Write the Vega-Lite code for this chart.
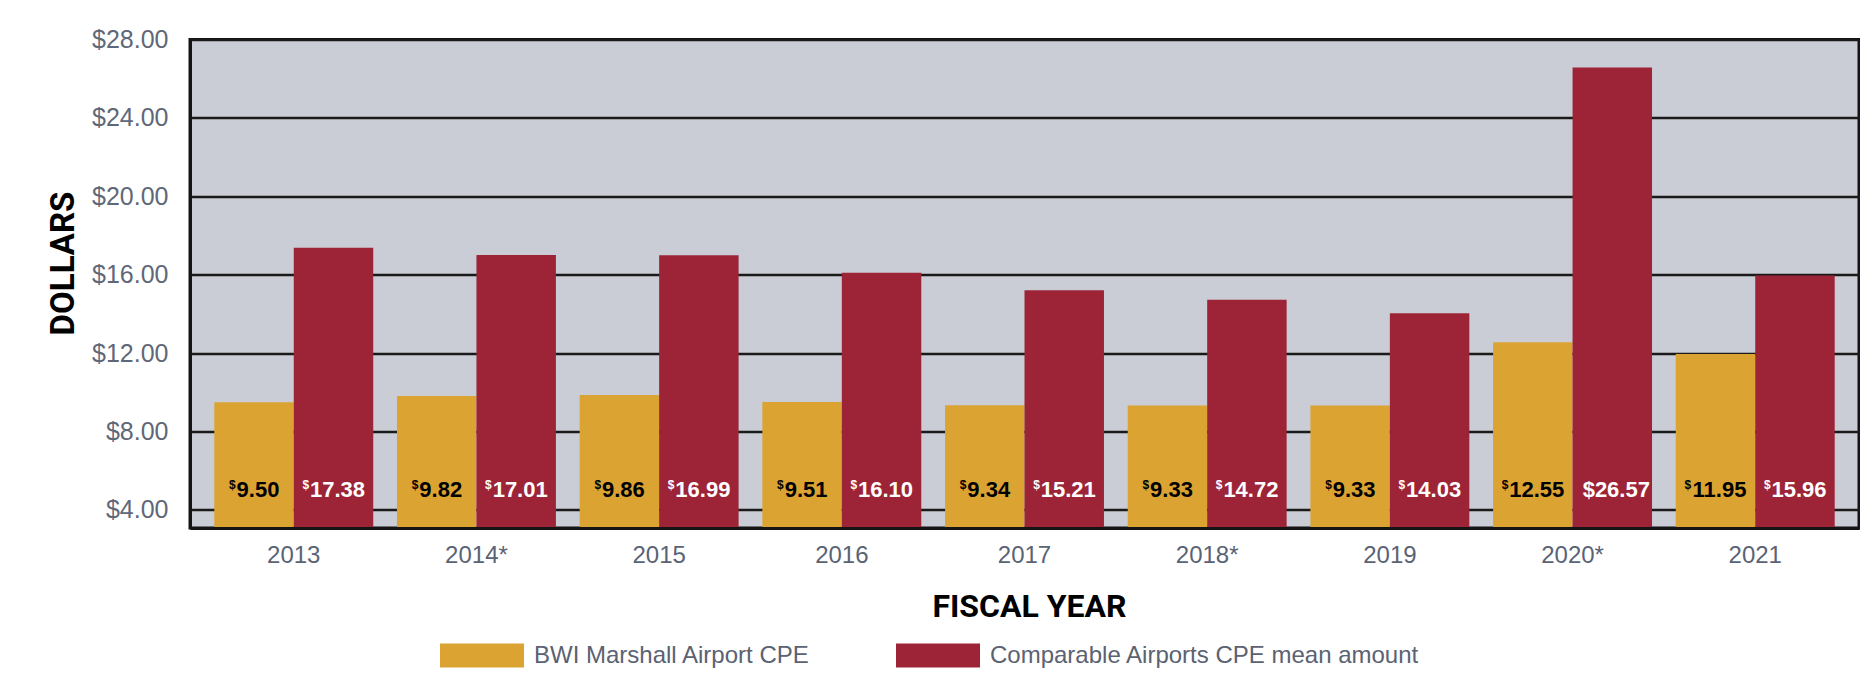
{
  "$schema": "https://vega.github.io/schema/vega-lite/v6.json",
  "autosize": {"type": "none"},
  "width": 1669,
  "height": 488.5,
  "padding": {"left": 190, "top": 39.5, "right": 1, "bottom": 147},
  "background": "#FFFFFF",
  "config": {
    "view": {"fill": "#CACDD5", "stroke": "#141414", "strokeWidth": 3}
  },
  "data": {
    "values": [
      {"year": "2013", "series": "BWI Marshall Airport CPE", "value": 9.50},
      {"year": "2013", "series": "Comparable Airports CPE mean amount", "value": 17.38},
      {"year": "2014*", "series": "BWI Marshall Airport CPE", "value": 9.82},
      {"year": "2014*", "series": "Comparable Airports CPE mean amount", "value": 17.01},
      {"year": "2015", "series": "BWI Marshall Airport CPE", "value": 9.86},
      {"year": "2015", "series": "Comparable Airports CPE mean amount", "value": 16.99},
      {"year": "2016", "series": "BWI Marshall Airport CPE", "value": 9.51},
      {"year": "2016", "series": "Comparable Airports CPE mean amount", "value": 16.10},
      {"year": "2017", "series": "BWI Marshall Airport CPE", "value": 9.34},
      {"year": "2017", "series": "Comparable Airports CPE mean amount", "value": 15.21},
      {"year": "2018*", "series": "BWI Marshall Airport CPE", "value": 9.33},
      {"year": "2018*", "series": "Comparable Airports CPE mean amount", "value": 14.72},
      {"year": "2019", "series": "BWI Marshall Airport CPE", "value": 9.33},
      {"year": "2019", "series": "Comparable Airports CPE mean amount", "value": 14.03},
      {"year": "2020*", "series": "BWI Marshall Airport CPE", "value": 12.55},
      {"year": "2020*", "series": "Comparable Airports CPE mean amount", "value": 26.57},
      {"year": "2021", "series": "BWI Marshall Airport CPE", "value": 11.95},
      {"year": "2021", "series": "Comparable Airports CPE mean amount", "value": 15.96}
    ]
  },
  "encoding": {
    "x": {
      "field": "year",
      "type": "nominal",
      "sort": null,
      "scale": {"paddingInner": 0.13, "paddingOuter": 0.133},
      "axis": {
        "title": "FISCAL YEAR",
        "titleFont": "Roboto",
        "titleFontWeight": "bold",
        "titleFontSize": 32,
        "titleColor": "#000000",
        "titleBaseline": "alphabetic",
        "titleX": 839,
        "titleY": 88,
        "labelFont": "'Liberation Sans', sans-serif",
        "labelFontSize": 24,
        "labelColor": "#5A6375",
        "labelAngle": 0,
        "labelBaseline": "top",
        "labelPadding": 15,
        "ticks": false,
        "domainColor": "#141414",
        "domainWidth": 3,
        "zindex": 1
      }
    },
    "xOffset": {"field": "series", "type": "nominal", "scale": {"paddingInner": 0, "paddingOuter": 0}},
    "y": {
      "field": "value",
      "type": "quantitative",
      "scale": {"domain": [3.08, 28], "nice": false, "zero": false},
      "axis": {
        "title": "DOLLARS",
        "titleFont": "Roboto",
        "titleFontWeight": "bold",
        "titleFontSize": 33,
        "titleColor": "#000000",
        "titleAngle": 270,
        "titleAlign": "center",
        "titleBaseline": "alphabetic",
        "titleX": -117,
        "titleY": 223.5,
        "values": [4, 8, 12, 16, 20, 24, 28],
        "format": "$.2f",
        "labelFont": "'Liberation Sans', sans-serif",
        "labelFontSize": 25,
        "labelColor": "#5F6878",
        "labelPadding": 22,
        "ticks": false,
        "grid": true,
        "gridColor": "#1A1A1A",
        "gridWidth": 2.5,
        "gridOpacity": 1,
        "domainColor": "#141414",
        "domainWidth": 3
      }
    }
  },
  "layer": [
    {
      "mark": {"type": "bar", "clip": true},
      "encoding": {
        "color": {
          "field": "series",
          "type": "nominal",
          "scale": {
            "domain": ["BWI Marshall Airport CPE", "Comparable Airports CPE mean amount"],
            "range": ["#DBA332", "#9D2437"]
          },
          "legend": {
            "title": null,
            "orient": "none",
            "direction": "horizontal",
            "legendX": 250,
            "legendY": 574,
            "padding": 0,
            "symbolType": "M-1,-0.2857H1V0.2857H-1Z",
            "symbolSize": 7056,
            "symbolStrokeWidth": 0,
            "symbolOpacity": 1,
            "labelFont": "'Liberation Sans', sans-serif",
            "labelFontSize": 24,
            "labelColor": "#5B6272",
            "labelOffset": 10,
            "labelLimit": 900,
            "columnPadding": 85
          }
        }
      }
    },
    {
      "mark": {
        "type": "text",
        "font": "'Liberation Sans', sans-serif",
        "fontWeight": "bold",
        "fontSize": 22,
        "baseline": "middle",
        "align": "center",
        "dx": 4
      },
      "encoding": {
        "y": {"datum": 5},
        "text": {
          "condition": {
            "test": "datum.value > 26",
            "field": "value",
            "format": "$.2f"
          },
          "field": "value",
          "type": "quantitative",
          "format": ".2f"
        },
        "color": {
          "condition": {"test": "datum.series === 'BWI Marshall Airport CPE'", "value": "#000000"},
          "value": "#FFFFFF"
        }
      }
    },
    {
      "transform": [{"filter": "datum.value < 26"}],
      "mark": {
        "type": "text",
        "font": "'Liberation Sans', sans-serif",
        "fontWeight": "bold",
        "fontSize": 12,
        "baseline": "top",
        "align": "right",
        "dy": -10,
        "dx": {"expr": "4 - (length(format(datum.value, '.2f')) - 1) * 6.1 - 4"}
      },
      "encoding": {
        "y": {"datum": 5},
        "text": {"value": "$"},
        "color": {
          "condition": {"test": "datum.series === 'BWI Marshall Airport CPE'", "value": "#000000"},
          "value": "#FFFFFF"
        }
      }
    }
  ]
}
